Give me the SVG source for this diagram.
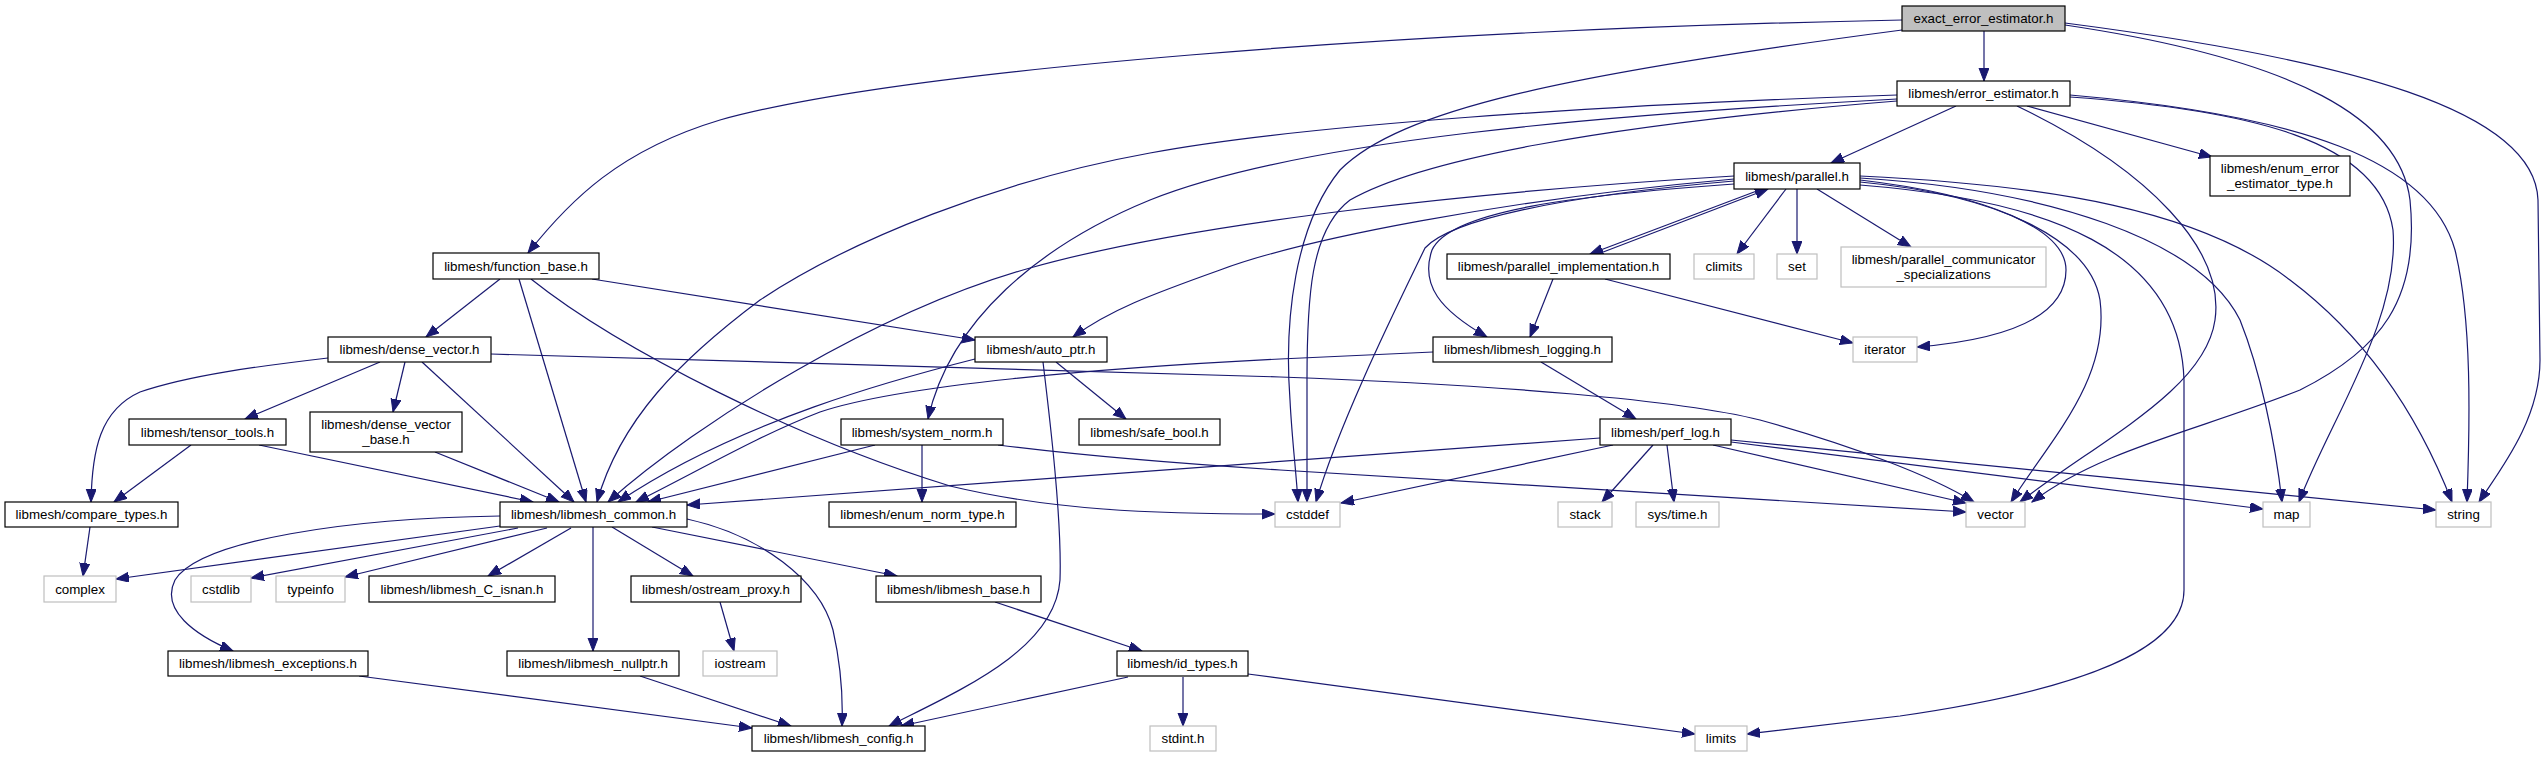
<svg xmlns="http://www.w3.org/2000/svg" width="2545" height="757" viewBox="0 0 2545 757">
<style>
.n rect{fill:#fff;stroke:#000;stroke-width:1.2}
.g rect{fill:#fff;stroke:#bfbfbf;stroke-width:1.2}
.r rect{fill:#bfbfbf;stroke:#000;stroke-width:1.2}
text{font-family:"Liberation Sans",Arial,sans-serif;font-size:13.33px;fill:#000;text-anchor:middle}
#edges path{fill:none;stroke:#191970;stroke-width:1.2;marker-end:url(#ah)}
</style>
<defs>
<marker id="ah" markerUnits="userSpaceOnUse" markerWidth="14" markerHeight="11" refX="13" refY="5" orient="auto">
<path d="M0,0 L13,5 L0,10 z" fill="#191970" stroke="#191970" stroke-width="1"/>
</marker>
</defs>
<rect x="0" y="0" width="2545" height="757" fill="#fff"/>
<g id="edges">
<path d="M1984,31 L1984,81"/>
<path d="M1902,20 C1400,30 900,70 720,120 C620,150 570,200 528,253"/>
<path d="M1902,30 C1560,75 1400,110 1340,170 C1295,225 1284,320 1290,400 C1292,440 1296,470 1298,502"/>
<path d="M2065,25 C2300,60 2400,120 2410,200 C2420,300 2380,350 2300,390 C2200,430 2100,450 2032,502"/>
<path d="M2065,23 C2350,60 2535,110 2538,200 L2540,360 C2540,420 2500,470 2479,502"/>
<path d="M1897,101 C1600,125 1420,160 1350,200 C1310,230 1307,300 1307,380 L1307,502"/>
<path d="M1956,106 L1831,163"/>
<path d="M1897,95 C1600,105 1300,125 1150,153 C1000,180 850,240 760,300 C680,360 620,420 597,502"/>
<path d="M1897,99 C1600,115 1300,140 1150,200 C1040,245 950,320 928,419"/>
<path d="M2027,106 L2212,157"/>
<path d="M2017,106 C2150,170 2225,250 2215,320 C2205,390 2100,440 2020,502"/>
<path d="M2070,97 C2250,110 2380,140 2393,230 C2400,320 2330,420 2299,502"/>
<path d="M2070,95 C2300,115 2430,160 2455,250 C2472,320 2470,420 2467,502"/>
<path d="M1860,180 C1990,195 2066,230 2066,270 C2066,320 2000,340 1917,347"/>
<path d="M1860,182 C2000,195 2090,240 2100,300 C2110,380 2050,440 2011,502"/>
<path d="M1860,185 C2050,200 2180,250 2184,380 L2184,590 C2184,650 2080,690 1900,716 C1830,724 1790,729 1747,734"/>
<path d="M1860,178 C2050,190 2200,240 2240,320 C2260,370 2275,440 2282,502"/>
<path d="M1860,176 C2050,185 2200,210 2290,280 C2370,340 2420,420 2452,502"/>
<path d="M1734,181 C1560,196 1450,220 1425,248 C1400,300 1340,420 1316,502"/>
<path d="M1734,184 C1580,195 1450,210 1432,250 C1420,285 1440,310 1487,337"/>
<path d="M1734,176 C1500,190 1200,220 1030,268 C880,310 700,420 608,502"/>
<path d="M1734,179 C1500,200 1300,240 1220,270 C1150,295 1110,310 1073,337"/>
<path d="M1762,189 L1590,254"/>
<path d="M1598,254 L1768,189"/>
<path d="M1786,189 L1737,254"/>
<path d="M1797,189 L1797,254"/>
<path d="M1817,189 L1911,247"/>
<path d="M1553,279 L1530,337"/>
<path d="M1605,279 L1853,343"/>
<path d="M1541,362 L1636,419"/>
<path d="M1433,352 L1280,359 C1100,368 900,385 820,412 C760,435 700,470 636,502"/>
<path d="M975,359 C900,378 740,420 618,502"/>
<path d="M1056,362 L1126,419"/>
<path d="M1043,362 C1050,420 1062,520 1060,580 C1055,650 960,690 889,726"/>
<path d="M500,279 L426,337"/>
<path d="M519,279 L586,502"/>
<path d="M531,279 C620,350 800,440 950,486 C1050,510 1150,514 1275,514"/>
<path d="M592,279 L975,340"/>
<path d="M328,358 C260,366 190,375 140,392 C100,410 92,450 91,502"/>
<path d="M380,362 L245,419"/>
<path d="M405,362 L393,412"/>
<path d="M422,362 L574,502"/>
<path d="M491,354 L1280,377 C1500,385 1680,400 1760,420 C1850,445 1930,475 1974,502"/>
<path d="M191,445 L114,502"/>
<path d="M259,445 L533,502"/>
<path d="M435,452 L559,502"/>
<path d="M90,527 L83,576"/>
<path d="M500,526 L116,579"/>
<path d="M518,528 L251,578"/>
<path d="M547,528 L345,577"/>
<path d="M571,528 L488,576"/>
<path d="M500,516 C350,518 200,540 175,580 C160,610 195,635 233,651"/>
<path d="M593,527 L593,651"/>
<path d="M612,527 L693,576"/>
<path d="M652,527 L897,576"/>
<path d="M687,519 C760,535 820,580 833,630 C842,670 843,700 842,726"/>
<path d="M720,602 L734,651"/>
<path d="M995,602 L1142,651"/>
<path d="M359,676 L752,728"/>
<path d="M640,676 L791,726"/>
<path d="M1128,677 L901,726"/>
<path d="M1183,677 L1183,726"/>
<path d="M1248,674 L1695,734"/>
<path d="M875,445 L648,502"/>
<path d="M922,445 L922,502"/>
<path d="M998,445 C1100,458 1200,465 1280,470 L1966,512"/>
<path d="M1600,438 L687,505"/>
<path d="M1613,445 L1341,503"/>
<path d="M1653,445 L1602,502"/>
<path d="M1667,445 L1674,502"/>
<path d="M1731,440 L2436,510"/>
<path d="M1731,442 L2263,509"/>
<path d="M1713,445 L1966,503"/>
</g>
<g id="n_exact" class="r"><rect x="1902" y="6" width="163" height="25"/><text x="1983.5" y="23">exact_error_estimator.h</text></g>
<g id="n_error_estimator" class="n"><rect x="1897" y="81" width="173" height="25"/><text x="1983.5" y="98">libmesh/error_estimator.h</text></g>
<g id="n_function_base" class="n"><rect x="433" y="253" width="166" height="26"/><text x="516" y="271">libmesh/function_base.h</text></g>
<g id="n_dense_vector" class="n"><rect x="328" y="337" width="163" height="25"/><text x="409.5" y="354">libmesh/dense_vector.h</text></g>
<g id="n_auto_ptr" class="n"><rect x="975" y="337" width="132" height="25"/><text x="1041" y="354">libmesh/auto_ptr.h</text></g>
<g id="n_parallel" class="n"><rect x="1734" y="163" width="126" height="26"/><text x="1797" y="181">libmesh/parallel.h</text></g>
<g id="n_parallel_impl" class="n"><rect x="1447" y="254" width="223" height="25"/><text x="1558.5" y="271">libmesh/parallel_implementation.h</text></g>
<g id="n_climits" class="g"><rect x="1694" y="254" width="60" height="25"/><text x="1724" y="271">climits</text></g>
<g id="n_set" class="g"><rect x="1777" y="254" width="40" height="25"/><text x="1797" y="271">set</text></g>
<g id="n_par_comm" class="g"><rect x="1841" y="247" width="205" height="40"/><text x="1943.5" y="263.5">libmesh/parallel_communicator</text><text x="1943.5" y="278.5">_specializations</text></g>
<g id="n_logging" class="n"><rect x="1433" y="337" width="179" height="25"/><text x="1522.5" y="354">libmesh/libmesh_logging.h</text></g>
<g id="n_iterator" class="g"><rect x="1853" y="337" width="64" height="25"/><text x="1885" y="354">iterator</text></g>
<g id="n_enum_error" class="n"><rect x="2210" y="156" width="140" height="40"/><text x="2280" y="172.5">libmesh/enum_error</text><text x="2280" y="187.5">_estimator_type.h</text></g>
<g id="n_tensor_tools" class="n"><rect x="129" y="419" width="157" height="26"/><text x="207.5" y="437">libmesh/tensor_tools.h</text></g>
<g id="n_dense_vector_base" class="n"><rect x="310" y="412" width="152" height="40"/><text x="386" y="428.5">libmesh/dense_vector</text><text x="386" y="443.5">_base.h</text></g>
<g id="n_system_norm" class="n"><rect x="841" y="419" width="162" height="26"/><text x="922" y="437">libmesh/system_norm.h</text></g>
<g id="n_safe_bool" class="n"><rect x="1079" y="419" width="141" height="26"/><text x="1149.5" y="437">libmesh/safe_bool.h</text></g>
<g id="n_perf_log" class="n"><rect x="1600" y="419" width="131" height="26"/><text x="1665.5" y="437">libmesh/perf_log.h</text></g>
<g id="n_compare_types" class="n"><rect x="5" y="502" width="173" height="25"/><text x="91.5" y="519">libmesh/compare_types.h</text></g>
<g id="n_libmesh_common" class="n"><rect x="500" y="502" width="187" height="25"/><text x="593.5" y="519">libmesh/libmesh_common.h</text></g>
<g id="n_enum_norm_type" class="n"><rect x="829" y="502" width="187" height="25"/><text x="922.5" y="519">libmesh/enum_norm_type.h</text></g>
<g id="n_cstddef" class="g"><rect x="1275" y="502" width="65" height="25"/><text x="1307.5" y="519">cstddef</text></g>
<g id="n_stack" class="g"><rect x="1558" y="502" width="54" height="25"/><text x="1585" y="519">stack</text></g>
<g id="n_systime" class="g"><rect x="1636" y="502" width="83" height="25"/><text x="1677.5" y="519">sys/time.h</text></g>
<g id="n_vector" class="g"><rect x="1966" y="502" width="59" height="25"/><text x="1995.5" y="519">vector</text></g>
<g id="n_map" class="g"><rect x="2263" y="502" width="47" height="25"/><text x="2286.5" y="519">map</text></g>
<g id="n_string" class="g"><rect x="2436" y="502" width="55" height="25"/><text x="2463.5" y="519">string</text></g>
<g id="n_complex" class="g"><rect x="44" y="576" width="72" height="26"/><text x="80" y="594">complex</text></g>
<g id="n_cstdlib" class="g"><rect x="191" y="576" width="60" height="26"/><text x="221" y="594">cstdlib</text></g>
<g id="n_typeinfo" class="g"><rect x="276" y="576" width="69" height="26"/><text x="310.5" y="594">typeinfo</text></g>
<g id="n_c_isnan" class="n"><rect x="369" y="576" width="186" height="26"/><text x="462" y="594">libmesh/libmesh_C_isnan.h</text></g>
<g id="n_ostream_proxy" class="n"><rect x="631" y="576" width="170" height="26"/><text x="716" y="594">libmesh/ostream_proxy.h</text></g>
<g id="n_libmesh_base" class="n"><rect x="876" y="576" width="165" height="26"/><text x="958.5" y="594">libmesh/libmesh_base.h</text></g>
<g id="n_exceptions" class="n"><rect x="168" y="651" width="200" height="25"/><text x="268" y="668">libmesh/libmesh_exceptions.h</text></g>
<g id="n_nullptr" class="n"><rect x="507" y="651" width="172" height="25"/><text x="593" y="668">libmesh/libmesh_nullptr.h</text></g>
<g id="n_iostream" class="g"><rect x="703" y="651" width="74" height="25"/><text x="740" y="668">iostream</text></g>
<g id="n_id_types" class="n"><rect x="1117" y="651" width="131" height="25"/><text x="1182.5" y="668">libmesh/id_types.h</text></g>
<g id="n_config" class="n"><rect x="752" y="726" width="173" height="25"/><text x="838.5" y="743">libmesh/libmesh_config.h</text></g>
<g id="n_stdint" class="g"><rect x="1150" y="726" width="66" height="25"/><text x="1183" y="743">stdint.h</text></g>
<g id="n_limits" class="g"><rect x="1695" y="726" width="52" height="25"/><text x="1721" y="743">limits</text></g>
</svg>
